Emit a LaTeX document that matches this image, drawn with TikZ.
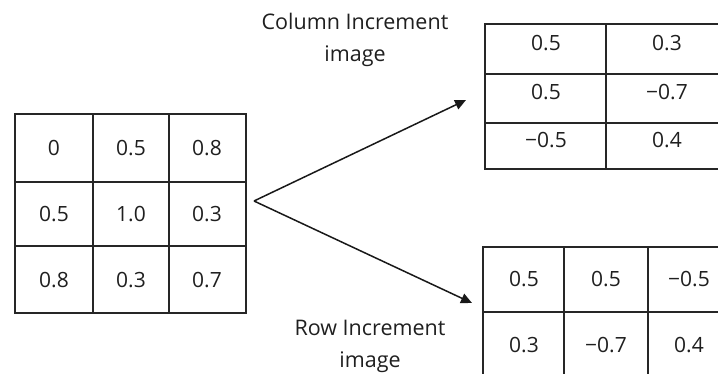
\documentclass[tikz,border=0pt]{standalone}
\usepackage{fontspec}
\setmainfont{Open Sans}
\usetikzlibrary{arrows.meta}
\begin{document}
\begin{tikzpicture}[x=1pt,y=-1pt,
  gridline/.style={draw=black!85, line width=1.7pt},
  val/.style={inner sep=0pt, text=black!88, font=\fontsize{21}{24}\selectfont},
  lbl/.style={inner sep=0pt, align=center, text=black!88, font=\fontsize{21.5}{32}\selectfont},
  arr/.style={draw=black!90, line width=1.5pt, -{Triangle[length=11pt,width=10pt]}}]
\useasboundingbox (0,0) rectangle (718,374);
\clip (0,0) rectangle (718,374);
% left grid
\draw[gridline] (15,114) rectangle (246,313);
\draw[gridline] (93,114) -- (93,313) (169,114) -- (169,313)
                (15,182) -- (246,182) (15,246) -- (246,246);
\node[val] (a11) at (54,148) {0};
\node[val] (a12) at (131,148) {0.5};
\node[val] (a13) at (207,148) {0.8};
\node[val] (a21) at (54,214) {0.5};
\node[val] (a22) at (131,214) {1.0};
\node[val] (a23) at (207,214) {0.3};
\node[val] (a31) at (54,280) {0.8};
\node[val] (a32) at (131,280) {0.3};
\node[val] (a33) at (207,280) {0.7};
% column increment grid
\draw[gridline] (485,24) rectangle (728,169);
\draw[gridline] (606,24) -- (606,169) (485,74) -- (728,74) (485,123) -- (728,123);
\node[val] (c11) at (546,43) {0.5};
\node[val] (c12) at (667,43) {0.3};
\node[val] (c21) at (546,92) {0.5};
\node[val] (c22) at (667,92) {−0.7};
\node[val] (c31) at (546,140) {−0.5};
\node[val] (c32) at (667,140) {0.4};
% row increment grid
\draw[gridline] (483,247) rectangle (730,380);
\draw[gridline] (564,247) -- (564,380) (648,247) -- (648,380) (483,312) -- (730,312);
\node[val] (r11) at (524,279) {0.5};
\node[val] (r12) at (606,279) {0.5};
\node[val] (r13) at (689,279) {−0.5};
\node[val] (r21) at (524,345) {0.3};
\node[val] (r22) at (606,345) {−0.7};
\node[val] (r23) at (689,345) {0.4};
% labels
\node[lbl] (collbl) at (355,40) {Column Increment\\image};
\node[lbl] (rowlbl) at (370,346) {Row Increment\\image};
% arrows
\coordinate (src) at (254,201);
\coordinate (coltip) at (466,100);
\coordinate (rowtip) at (472,303);
\draw[arr] (src) -- (coltip);
\draw[arr] (src) -- (rowtip);
\end{tikzpicture}
\end{document}
